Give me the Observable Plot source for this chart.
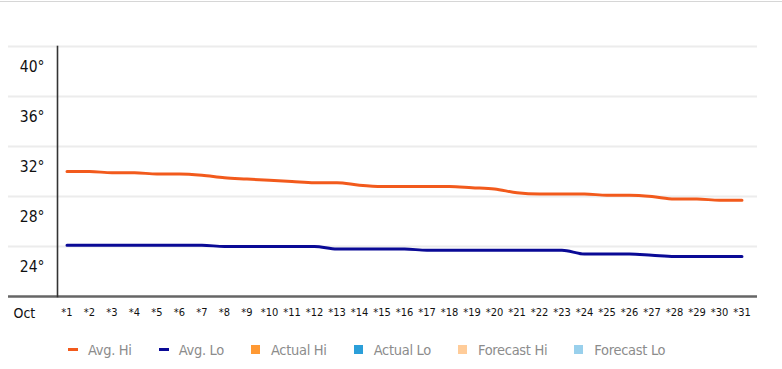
<!DOCTYPE html>
<html>
<head>
<meta charset="utf-8">
<script src="https://cdn.jsdelivr.net/npm/d3@7"></script>
<script src="https://cdn.jsdelivr.net/npm/@observablehq/plot@0.6"></script>
<style>
  html, body { margin: 0; padding: 0; background: #fff; }
  #wrap { position: relative; width: 782px; height: 369px; overflow: hidden;
          font-family: "DejaVu Sans Condensed", "Liberation Sans", sans-serif; }
  #topline { position: absolute; left: 0; top: 1px; width: 782px; height: 1px; background: #d6d6d6; }
  #chart { position: absolute; left: 0; top: 0; }
  #legend { position: absolute; left: 0; top: 330px; width: 782px; height: 39px; box-sizing: border-box;
            display: flex; align-items: center; padding-left: 68px; font-size: 14.5px; color: #8c8c8c; letter-spacing: -0.3px; }
  .item { display: flex; align-items: center; margin-right: 27px; }
  .sw-line { width: 10px; height: 3px; margin-right: 10px; }
  .sw-box { width: 9px; height: 9px; margin-right: 11px; }
</style>
</head>
<body>
<div id="wrap">
  <div id="chart"></div>
  <div id="topline"></div>
  <div id="legend"></div>
</div>
<script>
// ---- data ----
const days = [1,2,3,4,5,6,7,8,9,10,11,12,13,14,15,16,17,18,19,20,21,22,23,24,25,26,27,28,29,30,31];
const dayLabels = days.map(d => "*" + d);
const avgHi = [32.0,32.0,31.9,31.9,31.8,31.8,31.7,31.5,31.4,31.3,31.2,31.1,31.1,30.9,30.8,30.8,30.8,30.8,30.7,30.6,30.3,30.2,30.2,30.2,30.1,30.1,30.0,29.8,29.8,29.7,29.7];
const avgLo = [26.1,26.1,26.1,26.1,26.1,26.1,26.1,26.0,26.0,26.0,26.0,26.0,25.8,25.8,25.8,25.8,25.7,25.7,25.7,25.7,25.7,25.7,25.7,25.4,25.4,25.4,25.3,25.2,25.2,25.2,25.2];
const yTicks = [24, 28, 32, 36, 40];
const gridValues = [26, 30, 34, 38, 42];
const monthLabel = "Oct";
const legendItems = [
  {label: "Avg. Hi", color: "#f25a1c", kind: "line"},
  {label: "Avg. Lo", color: "#0a0a96", kind: "line"},
  {label: "Actual Hi", color: "#ff9933", kind: "box"},
  {label: "Actual Lo", color: "#2b9fd9", kind: "box"},
  {label: "Forecast Hi", color: "#ffcc99", kind: "box"},
  {label: "Forecast Lo", color: "#99d0ec", kind: "box"}
];

const rows = days.map((d, i) => ({day: d, hi: avgHi[i], lo: avgLo[i]}));
const font = "DejaVu Sans Condensed, Liberation Sans, sans-serif";

const chart = Plot.plot({
  width: 782,
  height: 330,
  marginLeft: 57,
  marginRight: 25,
  marginTop: 46,
  marginBottom: 34,
  style: {fontFamily: font, background: "transparent", overflow: "visible"},
  x: {domain: [0.578, 31.69], axis: null, label: null},
  y: {domain: [22, 42], axis: null, label: null},
  marks: [
    Plot.ruleY(gridValues, {stroke: "#ececec", strokeWidth: 2, insetLeft: -49}),
    Plot.ruleY([22], {stroke: "#666", strokeWidth: 2.5, insetLeft: -49}),
    Plot.frame({anchor: "left", stroke: "#333", strokeWidth: 1.6}),
    Plot.axisY(yTicks, {
      tickSize: 0, tickPadding: 13, lineAnchor: "bottom", label: null,
      tickFormat: d => d + "°", fontSize: 15.5, fill: "#111"
    }),
    Plot.axisX(days, {
      tickSize: 0, tickPadding: 12, fontSize: 11, fill: "#111", label: null,
      tickFormat: (d, i) => dayLabels[i]
    }),
    Plot.text([monthLabel], {
      text: d => d, frameAnchor: "bottom-left", textAnchor: "start",
      lineAnchor: "bottom", dx: -44, dy: 21, fontSize: 14, fill: "#111"
    }),
    Plot.line(rows, {x: "day", y: "hi", stroke: legendItems[0].color, strokeWidth: 3, curve: "monotone-x"}),
    Plot.line(rows, {x: "day", y: "lo", stroke: legendItems[1].color, strokeWidth: 3, curve: "monotone-x"})
  ]
});
document.getElementById("chart").appendChild(chart);

const legend = document.getElementById("legend");
for (const it of legendItems) {
  const item = document.createElement("div");
  item.className = "item";
  const sw = document.createElement("span");
  sw.className = it.kind === "line" ? "sw-line" : "sw-box";
  sw.style.background = it.color;
  const tx = document.createElement("span");
  tx.textContent = it.label;
  item.appendChild(sw);
  item.appendChild(tx);
  legend.appendChild(item);
}
</script>
</body>
</html>
